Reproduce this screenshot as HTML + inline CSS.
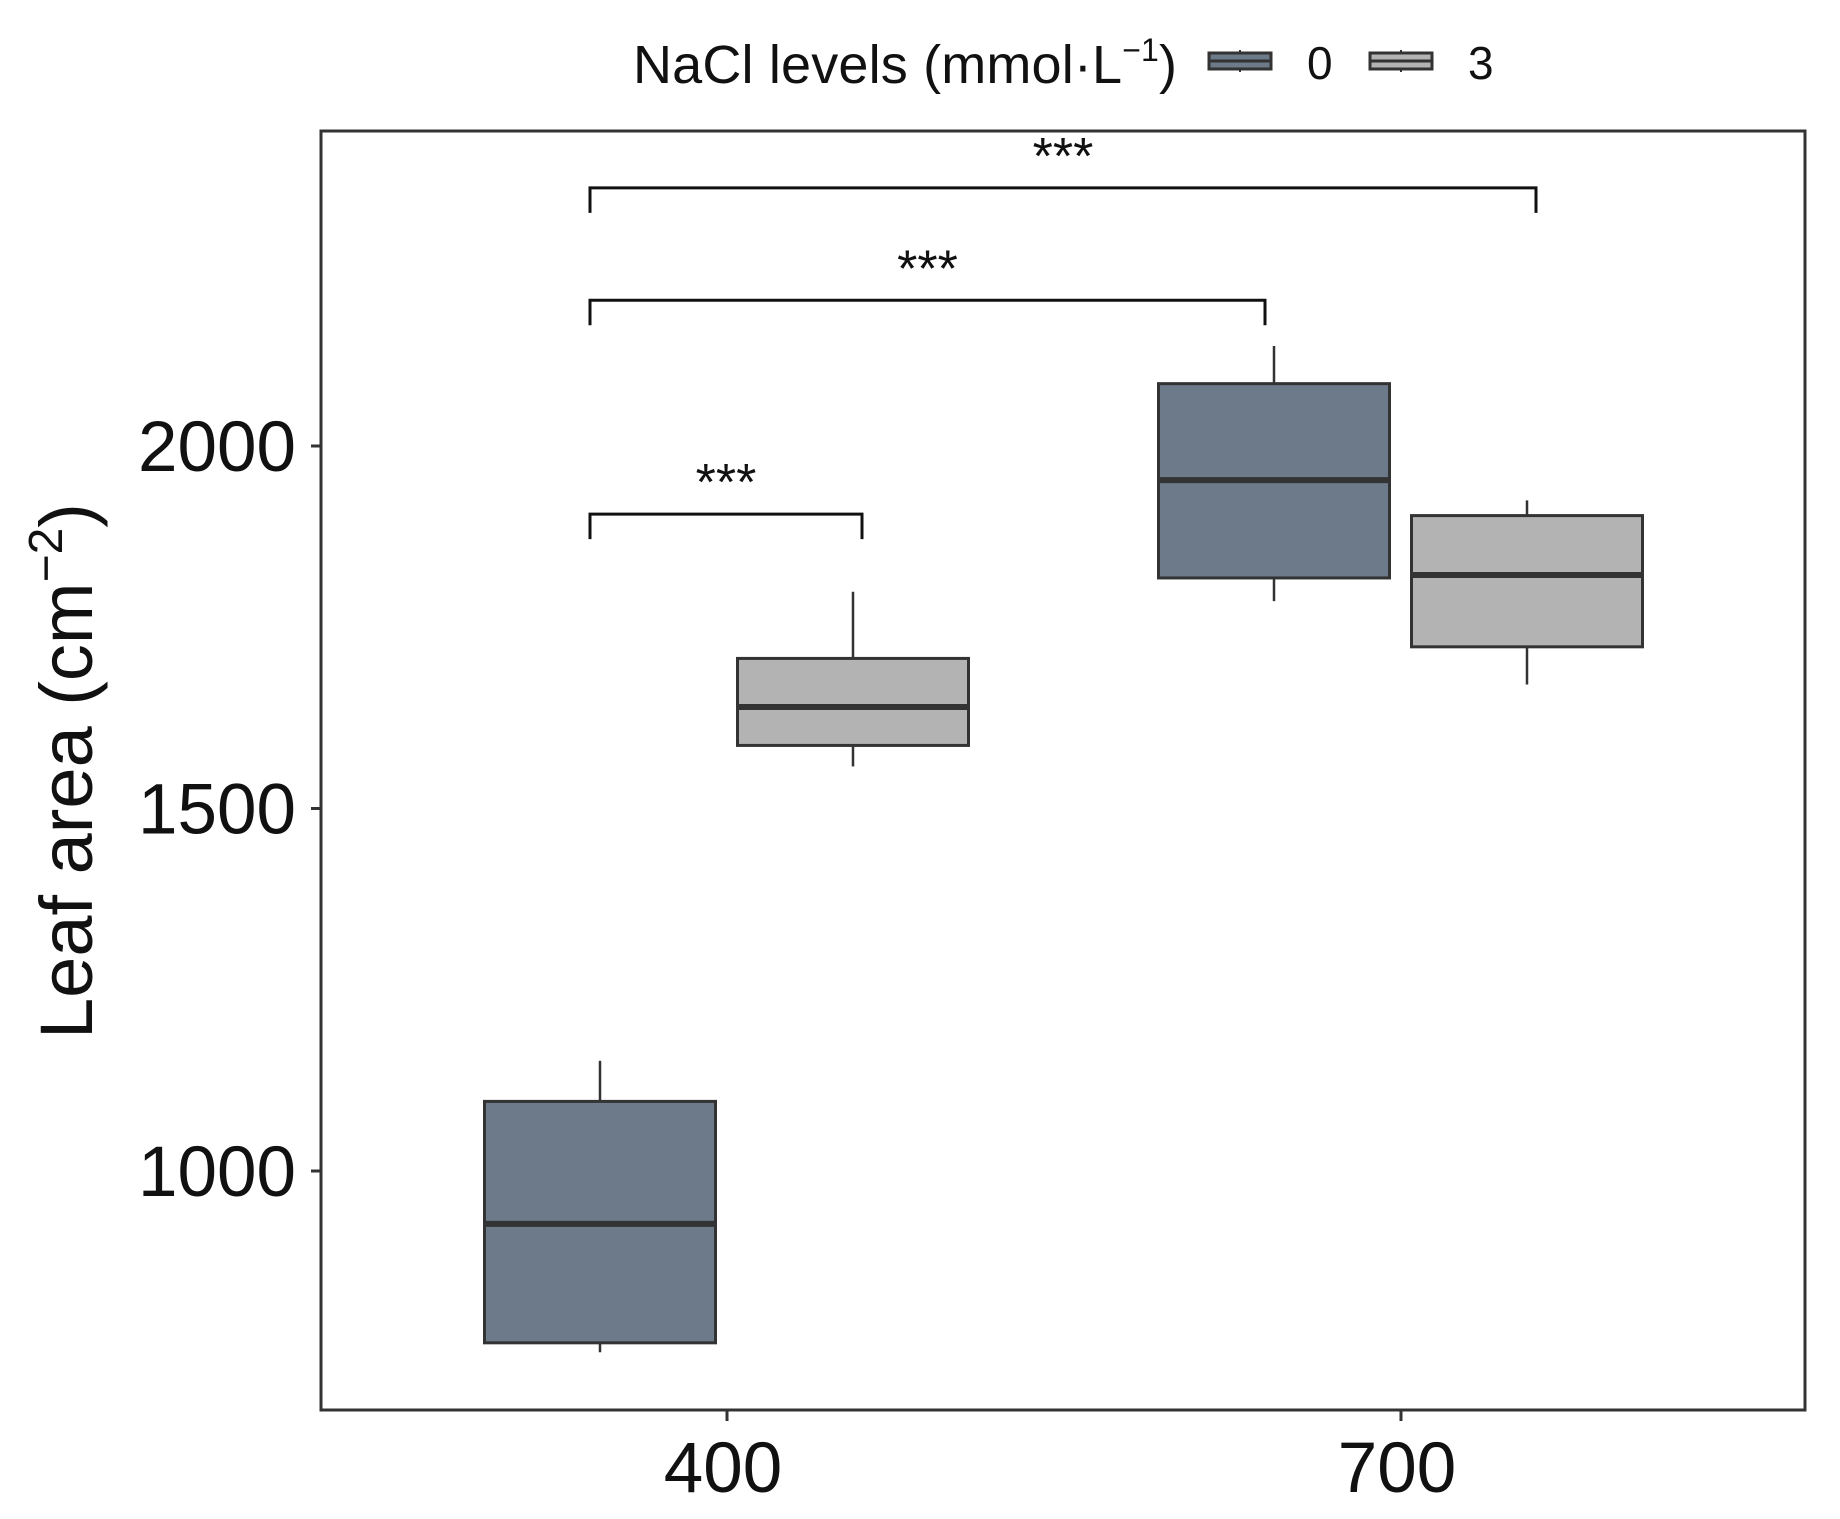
<!DOCTYPE html>
<html><head><meta charset="utf-8"><style>
body{margin:0;background:#fff}
svg{display:block;font-family:"Liberation Sans",sans-serif}
</style></head><body>
<svg id="chart" width="1840" height="1519" viewBox="0 0 1840 1519">
<rect x="321" y="131" width="1484" height="1279" fill="#fff" stroke="#333" stroke-width="3"/>
<g id="axes"></g>
<g id="boxes"></g>
<g id="sig"></g>
<text transform="translate(92,771) rotate(-90)" text-anchor="middle" font-size="74" fill="#111">Leaf area (cm<tspan font-size="48" dy="-30">−2</tspan><tspan dy="30">)</tspan></text>
<g>
<text x="633" y="83" font-size="54" fill="#111" textLength="544">NaCl levels (mmol·L<tspan font-size="32" dy="-22">−1</tspan><tspan dy="22">)</tspan></text>
<g>
<line x1="1240" y1="50" x2="1240" y2="72" stroke="#333" stroke-width="2"/>
<rect x="1209" y="53" width="62" height="16" fill="#6c7a89" stroke="#333" stroke-width="3"/>
<line x1="1209" y1="61" x2="1271" y2="61" stroke="#333" stroke-width="3"/>
<text x="1307" y="79" font-size="46" fill="#111">0</text></g>
<g>
<line x1="1401" y1="50" x2="1401" y2="72" stroke="#333" stroke-width="2"/>
<rect x="1370" y="53" width="62" height="16" fill="#b3b3b3" stroke="#333" stroke-width="3"/>
<line x1="1370" y1="61" x2="1432" y2="61" stroke="#333" stroke-width="3"/>
<text x="1468" y="79" font-size="46" fill="#111">3</text></g>
</g>
</svg>
<script>
const categories=["400","700"];
const groups=["0","3"];
const whiskerLow=[[750,1558],[1786,1671]];
const q1=[[763,1587],[1818,1723]];
const median=[[927,1640],[1953,1822]];
const q3=[[1096,1707],[2086,1904]];
const whiskerHigh=[[1152,1799],[2138,1925]];
const yTicks=[1000,1500,2000];
const brackets=[{from:[0,0],to:[0,1],y:1906,label:"***"},{from:[0,0],to:[1,0],y:2201,label:"***"},{from:[0,0],to:[1,1],y:2356,label:"***"}];
const fills=["#6c7a89","#b3b3b3"];
const NS="http://www.w3.org/2000/svg";
function y(v){return 1171-(v-1000)*362.5/500;}
function xc(i){return 727+i*674;}
function xg(i,g){return xc(i)+(g===0?-127:126);}
function mk(tag,at,parent){const e=document.createElementNS(NS,tag);for(const k in at)e.setAttribute(k,at[k]);parent.appendChild(e);return e;}
const axes=document.getElementById('axes'),boxes=document.getElementById('boxes'),sig=document.getElementById('sig');
yTicks.forEach(t=>{
 const l=mk('line',{x1:311,x2:321,y1:y(t),y2:y(t),stroke:'#333','stroke-width':3},axes);
 
 
 const tx=mk('text',{x:296,y:y(t)+25,'text-anchor':'end','font-size':71,fill:'#111'},axes);
 tx.textContent=t;
 
 
});
categories.forEach((c,i)=>{
 const l=mk('line',{x1:xc(i),x2:xc(i),y1:1410,y2:1421,stroke:'#333','stroke-width':3},axes);
 
 
 const tx=mk('text',{x:xc(i)-4,y:1492,'text-anchor':'middle','font-size':71,fill:'#111'},axes);
 tx.textContent=c;
 
 
 groups.forEach((g,j)=>{
  const cx=xg(i,j),w=231;
  const grp=mk('g',{},boxes);
  
  
  mk('line',{x1:cx,x2:cx,y1:y(whiskerHigh[i][j]),y2:y(q3[i][j]),stroke:'#333','stroke-width':2.5},grp);
  mk('line',{x1:cx,x2:cx,y1:y(q1[i][j]),y2:y(whiskerLow[i][j]),stroke:'#333','stroke-width':2.5},grp);
  mk('rect',{x:cx-w/2,y:y(q3[i][j]),width:w,height:y(q1[i][j])-y(q3[i][j]),fill:fills[j],stroke:'#333','stroke-width':3},grp);
  mk('line',{x1:cx-w/2,x2:cx+w/2,y1:y(median[i][j]),y2:y(median[i][j]),stroke:'#333','stroke-width':6},grp);
 });
});
brackets.forEach((b,k)=>{
 const x1=xg(b.from[0],b.from[1])-10;
 const x2=xg(b.to[0],b.to[1])+(b.to[1]===0?-9:9);
 const yy=y(b.y);
 const grp=mk('g',{},sig);
 
 
 mk('path',{d:`M${x1} ${yy+25}V${yy}H${x2}V${yy+25}`,fill:'none',stroke:'#111','stroke-width':3},grp);
 const t=mk('text',{x:(x1+x2)/2,y:yy-14,'text-anchor':'middle','font-size':52,fill:'#111'},grp);
 t.textContent=b.label;
});
</script>
</body></html>
